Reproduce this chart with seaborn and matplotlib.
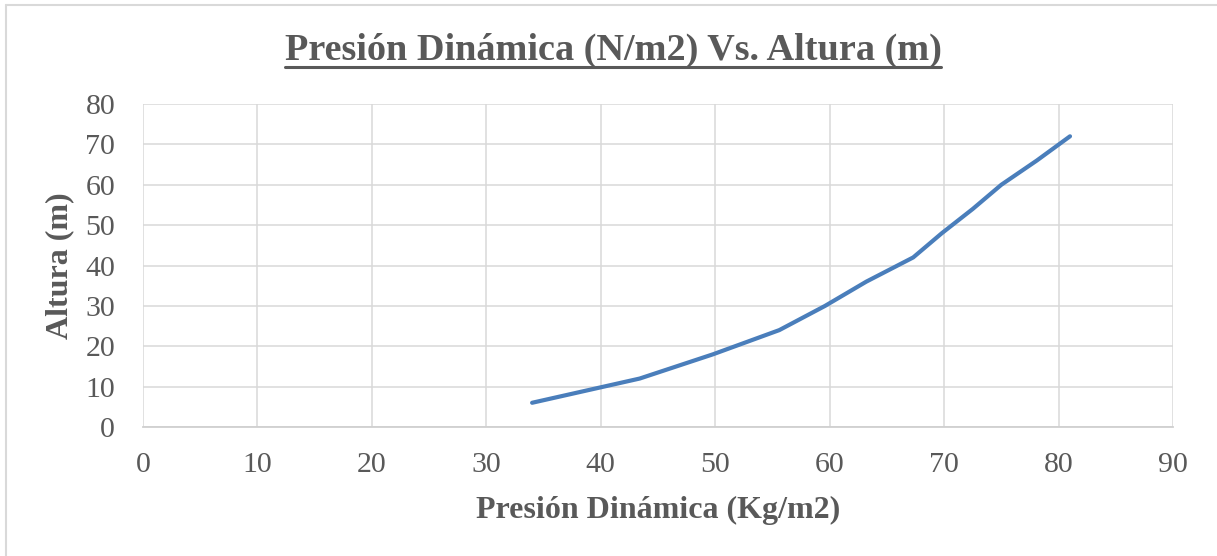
import matplotlib
matplotlib.use("Agg")
import matplotlib.pyplot as plt
from matplotlib.lines import Line2D
import seaborn as sns
import pandas as pd

# Dynamic pressure (Kg/m2) at each height (m)
presion = [34.0, 43.4, 49.8, 55.6, 59.6, 63.2, 67.3, 69.8, 72.5, 75.0, 78.1, 81.0]
altura = [6, 12, 18, 24, 30, 36, 42, 48, 54, 60, 66, 72]

x_ticks = [0, 10, 20, 30, 40, 50, 60, 70, 80, 90]
y_ticks = [0, 10, 20, 30, 40, 50, 60, 70, 80]

titulo = "Presión Dinámica (N/m2) Vs. Altura (m)"
etiqueta_x = "Presión Dinámica (Kg/m2)"
etiqueta_y = "Altura (m)"

df = pd.DataFrame({"presion": presion, "altura": altura})

sns.set_style("white")
plt.rcParams["font.family"] = ["Liberation Serif", "DejaVu Serif"]

W, H = 1217, 556
fig = plt.figure(figsize=(W / 100, H / 100), dpi=100)
ax_left, ax_right, ax_top, ax_bottom = 143, 1173, 104, 427
ax = fig.add_axes([ax_left / W, 1 - ax_bottom / H,
                   (ax_right - ax_left) / W, (ax_bottom - ax_top) / H])

sns.lineplot(data=df, x="presion", y="altura", sort=False, ax=ax,
             color="#4a7ebb", linewidth=3.0, solid_capstyle="round",
             solid_joinstyle="round")

ax.set_xlim(0, 90)
ax.set_ylim(0, 80)
ax.set_xticks(x_ticks)
ax.set_yticks(y_ticks)
ax.grid(True, color="#d9d9d9", linewidth=1.1)
ax.set_axisbelow(True)
for side in ["top", "right", "left"]:
    ax.spines[side].set_visible(False)
ax.spines["bottom"].set_color("#d0d0d0")
ax.spines["bottom"].set_linewidth(1.3)
ax.tick_params(axis="both", length=0, labelsize=21.5, labelcolor="#595959")
ax.tick_params(axis="x", pad=18)
ax.tick_params(axis="y", pad=20)

ax.set_xlabel(etiqueta_x, fontsize=23, fontweight="bold", color="#595959")
ax.set_ylabel(etiqueta_y, fontsize=23, fontweight="bold", color="#595959")
ax.xaxis.set_label_coords(((478 + 838) / 2 - ax_left) / (ax_right - ax_left),
                          (ax_bottom - 510) / (ax_bottom - ax_top))
ax.yaxis.set_label_coords((60 - ax_left) / (ax_right - ax_left), 0.5)
ax.xaxis.label.set_va("center")
ax.yaxis.label.set_va("center")

t = fig.text(613 / W, 1 - 50 / H, titulo, ha="center", va="center",
             fontsize=27.5, fontweight="bold", color="#595959")

# underline the title
fig.canvas.draw()
bb = t.get_window_extent(renderer=fig.canvas.get_renderer())
yline = H - 67
fig.add_artist(Line2D([bb.x0 / W, bb.x1 / W], [yline / H, yline / H],
                      transform=fig.transFigure, color="#595959", linewidth=2.2))

# chart-area border (top and left edges)
border = dict(transform=fig.transFigure, color="#d9d9d9", linewidth=1.5)
fig.add_artist(Line2D([6 / W, 1], [1 - 5 / H, 1 - 5 / H], **border))
fig.add_artist(Line2D([6 / W, 6 / W], [0, 1 - 5 / H], **border))

fig.savefig("out.png", dpi=100)
